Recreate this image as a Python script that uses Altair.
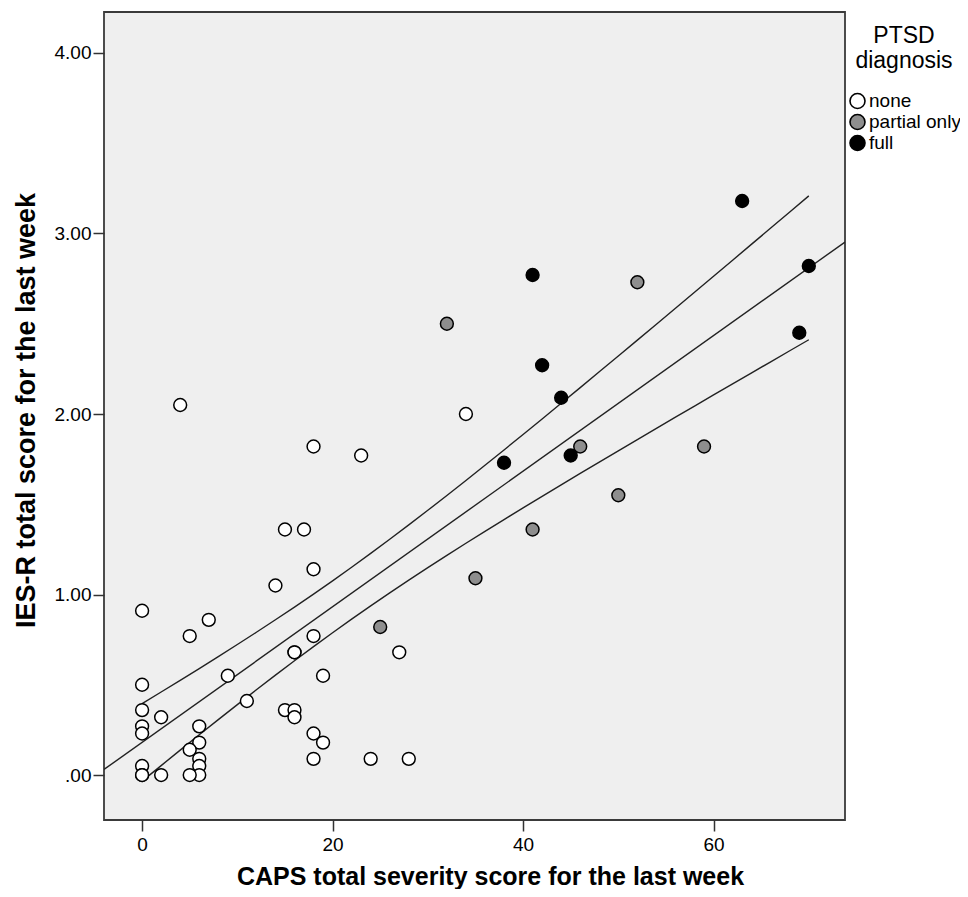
import altair as alt
import numpy as np
import pandas as pd

# ---- data ----
caps_none = [4, 34, 18, 23, 15, 17, 18, 14, 0, 7, 5, 18, 16, 16, 27, 0, 9, 19, 11, 0, 2, 15, 16, 16,
             0, 0, 6, 6, 5, 6, 6, 6, 5, 2, 0, 0, 0, 18, 19, 18, 24, 28]
ies_none = [2.05, 2.00, 1.82, 1.77, 1.36, 1.36, 1.14, 1.05, 0.91, 0.86, 0.77, 0.77, 0.68, 0.68, 0.68,
            0.50, 0.55, 0.55, 0.41, 0.36, 0.32, 0.36, 0.36, 0.32, 0.27, 0.23, 0.27, 0.18, 0.14, 0.09,
            0.05, 0.00, 0.00, 0.00, 0.05, 0.00, 0.00, 0.23, 0.18, 0.09, 0.09, 0.09]
caps_partial = [52, 32, 46, 59, 50, 41, 35, 25]
ies_partial = [2.73, 2.50, 1.82, 1.82, 1.55, 1.36, 1.09, 0.82]
caps_full = [63, 70, 69, 41, 42, 44, 38, 45]
ies_full = [3.18, 2.82, 2.45, 2.77, 2.27, 2.09, 1.73, 1.77]

groups = ["none", "partial only", "full"]
fills = ["white", "#8e8e8e", "black"]
x_ticks = [0, 20, 40, 60]
y_ticks = [0, 1, 2, 3, 4]
x_domain = [-4, 73.8]
y_domain = [-0.249, 4.227]

pts = pd.DataFrame({
    "caps": caps_none + caps_partial + caps_full,
    "ies": ies_none + ies_partial + ies_full,
    "dx": ["none"] * len(caps_none) + ["partial only"] * len(caps_partial) + ["full"] * len(caps_full),
})

# ---- linear fit with 95% CI of the mean ----
x = pts["caps"].to_numpy(float)
y = pts["ies"].to_numpy(float)
n = len(x)
xm, ym = x.mean(), y.mean()
sxx = ((x - xm) ** 2).sum()
b = ((x - xm) * (y - ym)).sum() / sxx
a = ym - b * xm
s = np.sqrt(((y - (a + b * x)) ** 2).sum() / (n - 2))
tcrit = 2.003

fit = pd.DataFrame({"caps": x_domain, "ies": [a + b * v for v in x_domain]})
grid = np.linspace(x.min(), x.max(), 36)
half = tcrit * s * np.sqrt(1 / n + (grid - xm) ** 2 / sxx)
ci = pd.concat([
    pd.DataFrame({"caps": grid, "ies": a + b * grid + half, "band": "upper"}),
    pd.DataFrame({"caps": grid, "ies": a + b * grid - half, "band": "lower"}),
])

xs = alt.Scale(domain=x_domain, nice=False, zero=False)
ys = alt.Scale(domain=y_domain, nice=False, zero=False)

x_axis = alt.Axis(values=x_ticks, title="CAPS total severity score for the last week",
                  grid=False, domain=False, tickSize=11, tickWidth=1.5, tickColor="#333",
                  labelFontSize=19, labelPadding=4, labelColor="black",
                  titleFontSize=25, titleFontWeight="bold", titleColor="black",
                  titleX=386, titleY=56, titleAlign="center", titleBaseline="middle")
y_axis = alt.Axis(values=y_ticks, title="IES-R total score for the last week",
                  grid=False, domain=False, tickSize=11, tickWidth=1.5, tickColor="#333",
                  labelFontSize=19, labelPadding=2, labelColor="black",
                  labelExpr="datum.value == 0 ? '.00' : format(datum.value, '.2f')",
                  titleFontSize=27, titleFontWeight="bold", titleColor="black",
                  titleAngle=270, titleX=-78, titleY=398, titleAlign="center", titleBaseline="middle")

fit_line = alt.Chart(fit).mark_line(color="#222", strokeWidth=1.4, clip=True).encode(
    x=alt.X("caps:Q", scale=xs, axis=x_axis),
    y=alt.Y("ies:Q", scale=ys, axis=y_axis),
)
ci_lines = alt.Chart(ci).mark_line(color="#222", strokeWidth=1.4, clip=True).encode(
    x=alt.X("caps:Q", scale=xs),
    y=alt.Y("ies:Q", scale=ys),
    detail="band:N",
)
points = alt.Chart(pts).mark_circle(size=165, stroke="black", strokeWidth=1.5, opacity=1).encode(
    x=alt.X("caps:Q", scale=xs),
    y=alt.Y("ies:Q", scale=ys),
    fill=alt.Fill("dx:N", scale=alt.Scale(domain=groups, range=fills),
                  legend=alt.Legend(title=["PTSD", "diagnosis"], orient="none",
                                    legendX=744, legendY=12.5, padding=0,
                                    titleFontSize=23, titleFontWeight="normal", titleColor="black",
                                    titleAnchor="middle", titleAlign="center", titleLineHeight=25,
                                    titlePadding=19, labelFontSize=19, labelColor="black",
                                    labelOffset=2, symbolType="circle", symbolSize=225,
                                    symbolStrokeColor="black", symbolStrokeWidth=1.6, rowPadding=-3)),
)

chart = alt.layer(ci_lines, fit_line, points).properties(
    width=741, height=808,
    padding={"left": 96, "top": 4, "right": 115, "bottom": 69},
    autosize=alt.AutoSizeParams(type="none"),
    background="white",
).configure(font="Liberation Sans").configure_view(
    fill="#efefef", stroke="#3a3a3a", strokeWidth=1.8
)

chart.save("out.html", embed_options={"renderer": "svg", "actions": False})
